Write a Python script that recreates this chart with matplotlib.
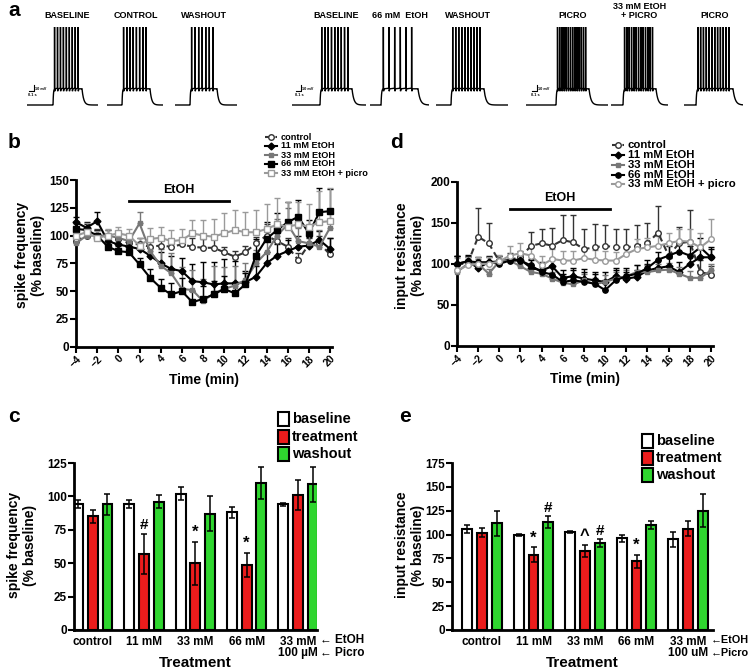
import numpy as np
import matplotlib
matplotlib.use('Agg')
import matplotlib.pyplot as plt
from matplotlib.lines import Line2D
from matplotlib.patches import Rectangle

plt.rcParams['font.family'] = ['Liberation Sans', 'DejaVu Sans']
plt.rcParams['font.weight'] = 'bold'
plt.rcParams['axes.labelweight'] = 'bold'

W, H = 752, 672

# ---------------- data ----------------
trace_titles = ['BASELINE', 'CONTROL', 'WASHOUT',
                'BASELINE', '66 mM  EtOH', 'WASHOUT',
                'PICRO', '33 mM EtOH\n+ PICRO', 'PICRO']
spike_counts = [9, 8, 7, 9, 6, 10, 14, 13, 12]

time_min = list(range(-4, 21))
series_names = ['control', '11 mM EtOH', '33 mM EtOH', '66 mM EtOH', '33 mM EtOH + picro']

b_control = [95, 100, 100, 100, 97, 93, 92, 90, 91, 90, 92, 90, 89, 89, 85, 81, 85, 93, 100, 95, 90, 78, 92, 93, 83]
b_control_err = [8, 6, 6, 5, 5, 5, 6, 7, 6, 7, 6, 8, 8, 8, 5, 5, 6, 6, 10, 10, 8, 6, 6, 7, 15]
b_11 = [112, 107, 113, 95, 92, 90, 88, 82, 75, 70, 68, 59, 58, 56, 57, 57, 58, 63, 75, 82, 86, 90, 91, 96, 88]
b_11_err = [5, 5, 8, 5, 5, 5, 6, 8, 10, 12, 12, 15, 18, 20, 22, 20, 10, 10, 10, 10, 10, 10, 8, 8, 10]
b_33 = [93, 100, 100, 100, 98, 95, 111, 86, 73, 66, 52, 51, 41, 48, 52, 55, 60, 75, 85, 100, 110, 95, 93, 90, 107]
b_33_err = [8, 5, 5, 5, 5, 6, 10, 12, 15, 18, 20, 18, 20, 25, 20, 18, 15, 12, 15, 15, 15, 12, 12, 15, 15]
b_66 = [106, 105, 100, 90, 86, 85, 74, 62, 53, 47, 50, 40, 43, 47, 52, 48, 56, 82, 97, 105, 112, 117, 102, 121, 122]
b_66_err = [6, 5, 5, 5, 5, 5, 6, 8, 8, 10, 12, 10, 12, 12, 12, 10, 10, 15, 15, 15, 18, 15, 12, 22, 20]
b_picro = [100, 103, 98, 100, 102, 100, 91, 97, 98, 95, 96, 102, 100, 99, 102, 105, 103, 103, 106, 110, 108, 110, 108, 112, 113]
b_picro_err = [10, 8, 6, 6, 6, 6, 7, 10, 10, 10, 10, 12, 14, 16, 18, 18, 18, 20, 22, 24, 22, 20, 20, 28, 30]

d_control = [100, 100, 133, 125, 103, 105, 108, 122, 125, 122, 129, 126, 118, 120, 122, 120, 120, 122, 125, 138, 110, 125, 127, 90, 87]
d_control_err = [10, 8, 35, 25, 6, 8, 8, 17, 18, 22, 30, 33, 25, 28, 25, 22, 23, 25, 25, 33, 15, 20, 38, 15, 10]
d_11 = [100, 103, 95, 102, 103, 105, 105, 95, 92, 97, 83, 85, 82, 80, 78, 85, 82, 84, 92, 95, 97, 90, 100, 108, 108]
d_11_err = [10, 8, 6, 8, 6, 6, 8, 10, 10, 10, 10, 10, 12, 10, 12, 10, 8, 8, 8, 10, 10, 12, 12, 12, 10]
d_33 = [90, 100, 100, 88, 103, 104, 97, 90, 88, 82, 77, 75, 80, 75, 78, 82, 85, 90, 90, 92, 93, 88, 83, 83, 92]
d_33_err = [8, 6, 6, 6, 6, 6, 8, 8, 8, 8, 8, 8, 8, 8, 8, 8, 8, 8, 8, 8, 8, 8, 8, 8, 8]
d_66 = [100, 103, 102, 102, 100, 104, 104, 98, 90, 87, 78, 80, 78, 76, 68, 80, 85, 88, 95, 105, 110, 115, 110, 120, 108]
d_66_err = [10, 6, 6, 6, 6, 6, 8, 8, 10, 10, 10, 12, 12, 12, 12, 12, 10, 10, 10, 10, 12, 12, 12, 12, 12]
d_picro = [92, 98, 100, 100, 103, 110, 113, 110, 98, 106, 104, 104, 107, 105, 104, 104, 112, 118, 120, 122, 125, 128, 127, 120, 130]
d_picro_err = [15, 10, 8, 8, 8, 12, 12, 12, 12, 12, 12, 12, 12, 12, 12, 10, 10, 12, 12, 12, 12, 15, 15, 18, 25]

bar_groups = ['control', '11 mM', '33 mM', '66 mM', '33 mM']
bar_conditions = ['baseline', 'treatment', 'washout']

c_baseline = [94, 94, 102, 88, 94]
c_baseline_err = [3, 3, 5, 4, 1]
c_treatment = [85, 57, 50, 49, 101]
c_treatment_err = [5, 15, 16, 9, 11]
c_washout = [94, 96, 87, 110, 109]
c_washout_err = [8, 5, 13, 12, 13]
c_marks = [(1, 1, '#'), (2, 1, '*'), (3, 1, '*')]

e_baseline = [106, 100, 103, 96, 95]
e_baseline_err = [4, 1, 1, 4, 8]
e_treatment = [102, 79, 83, 72, 106]
e_treatment_err = [5, 8, 6, 7, 8]
e_washout = [112, 113, 91, 110, 125]
e_washout_err = [13, 6, 4, 4, 17]
e_marks = [(1, 1, '*'), (1, 2, '#'), (2, 1, '^'), (2, 2, '#'), (3, 1, '*')]

# ---------------- helpers ----------------
fig = plt.figure(figsize=(W / 100, H / 100), dpi=100)


def ax_px(left, top, right, bottom):
    return fig.add_axes([left / W, 1 - bottom / H, (right - left) / W, (bottom - top) / H])


def ftext(x, y, s, **kw):
    return fig.text(x / W, 1 - y / H, s, **kw)


def fline(xs, ys, **kw):
    fig.add_artist(Line2D([x / W for x in xs], [1 - y / H for y in ys],
                          transform=fig.transFigure, **kw))


# ---------------- panel a: traces ----------------
# layout: left, step-on, step-off, right (pixels)
trace_layout = [(27, 53, 82, 98), (107, 122, 150, 163), (175, 190, 217, 237),
                (292, 320, 352, 366), (370, 381, 418, 429), (436, 451, 484, 508),
                (526, 556, 589, 608), (611, 623, 656, 668), (684, 696, 733, 743)]
STEP = 0.6
REST, PLAT, PEAK = -70.0, -43.0, 60.0
for i, (l, on, off, r) in enumerate(trace_layout):
    ax = ax_px(l, 22, r, 110)
    s = STEP / (off - on)
    t0, t1 = (l - on) * s, (r - on) * s
    ax.set_xlim(t0, t1)
    ax.set_ylim(REST - 5 / 0.6, REST + 83 / 0.6)
    ax.axis('off')
    ts = [t0, 0.0]
    vs = [REST, REST]
    rise = np.linspace(0, 0.03, 8)
    ts += list(rise + 0.0005)
    vs += list(REST + (PLAT - REST) * (1 - np.exp(-rise / 0.008)))
    n = spike_counts[i]
    sp = 0.02 + (np.arange(n) + 0.2) * (STEP - 0.05) / n
    for st in sp:
        ts += [st - 0.002, st, st + 0.003, st + 0.012]
        vs += [PLAT + 1, PEAK, PLAT - 4, PLAT]
    ts += [STEP - 0.001]
    vs += [PLAT]
    dec = np.linspace(0, t1 - STEP, 25)
    ts += list(STEP + dec)
    vs += list(REST + (PLAT - REST) * np.exp(-dec / 0.035))
    ax.plot(ts, vs, color='black', lw=1.0, solid_joinstyle='miter')
    if i in (0, 3, 6):
        xb = -19 * s
        ax.plot([xb - 5 * s, xb, xb], [-47, -47, -37], color='black', lw=0.8)
        ax.text(xb + 1 * s, -43, '10 mV', fontsize=2.8, va='center', ha='left')
        ax.text(xb - 6 * s, -53, '0.1 s', fontsize=2.8, va='center', ha='left')
    cx = (on + off) / 2
    if '\n' in trace_titles[i]:
        ftext(cx, 11, trace_titles[i], ha='center', va='center', fontsize=6.5,
              fontweight='bold', linespacing=1.1)
    else:
        ftext(cx, 15, trace_titles[i], ha='center', va='center', fontsize=6.5, fontweight='bold')

# ---------------- panels b and d ----------------
styles_b = [dict(color='#333333', ls=(0, (3, 2)), marker='o', mfc='white', mec='#333333', ms=4),
            dict(color='black', ls='-', marker='D', mfc='black', mec='black', ms=3.5),
            dict(color='#777777', ls='-', marker='s', mfc='#777777', mec='#777777', ms=3.5),
            dict(color='black', ls='-', marker='s', mfc='black', mec='black', ms=3.8),
            dict(color='#9a9a9a', ls='-', marker='s', mfc='white', mec='#9a9a9a', ms=4)]
styles_d = [dict(st) for st in styles_b]
styles_d[3]['marker'] = 'o'
styles_d[4]['marker'] = 'o'


def line_panel(ax, data, styles, ymax, ystep, ylabel, etoh_y, leg_x, leg_rows, leg_fs, ylab_x):
    t = np.array(time_min)
    order = [4, 2, 0, 1, 3]
    for k in order:
        vals, errs = data[k]
        st = styles[k]
        ax.errorbar(t, vals, yerr=[np.zeros(len(errs)), errs], fmt='none', ecolor=st['color'],
                    elinewidth=1.0, capsize=2.2, capthick=1.0, clip_on=False, zorder=2 + k * 0.1)
        ax.plot(t, vals, color=st['color'], ls=st['ls'], lw=1.5, marker=st['marker'],
                mfc=st['mfc'], mec=st['mec'], ms=st['ms'], mew=1.0, clip_on=False, zorder=3 + k * 0.1)
    ax.set_xlim(-4, 20.15)
    ax.set_ylim(0, ymax)
    ax.set_yticks(np.arange(0, ymax + 1, ystep))
    ax.set_xticks(np.arange(-4, 21, 2))
    for sp in ['top', 'right']:
        ax.spines[sp].set_visible(False)
    for sp in ['left', 'bottom']:
        ax.spines[sp].set_linewidth(2)
    ax.tick_params(axis='both', width=1.5, length=4, direction='out')
    ax.tick_params(axis='y', labelsize=8.5, pad=1)
    ax.tick_params(axis='x', labelsize=7.5, pad=1)
    for lab in ax.get_yticklabels():
        lab.set_fontweight('bold')
    for lab in ax.get_xticklabels():
        lab.set_fontweight('bold')
        lab.set_rotation(45)
        lab.set_ha('right')
        lab.set_rotation_mode('anchor')
    ax.plot([1, 10.5], [etoh_y, etoh_y], color='black', lw=2, clip_on=False)
    ax.text(5.75, etoh_y + ymax * 0.03, 'EtOH', ha='center', va='bottom', fontsize=9, fontweight='bold')
    ax.set_xlabel('Time (min)', fontsize=10, fontweight='bold', labelpad=3)
    pos = ax.get_position()
    ftext(ylab_x, (1 - (pos.y0 + pos.height / 2)) * H - 8, ylabel, rotation=90, ha='center',
          va='center', fontsize=10, fontweight='bold', multialignment='center', linespacing=1.1)
    # legend
    for k in range(5):
        st = styles[k]
        y = leg_rows[k]
        fline([leg_x - 6, leg_x + 6], [y, y], color=st['color'], ls=st['ls'], lw=1.5)
        fline([leg_x], [y], marker=st['marker'], mfc=st['mfc'], mec=st['mec'], ms=st['ms'],
              mew=1.0, ls='none')
        ftext(leg_x + 10, y, series_names[k], ha='left', va='center', fontsize=leg_fs, fontweight='bold')


ax_b = ax_px(76, 180, 331.6, 346.7)
line_panel(ax_b, [(b_control, b_control_err), (b_11, b_11_err), (b_33, b_33_err),
                  (b_66, b_66_err), (b_picro, b_picro_err)],
           styles_b, 150, 25, 'spike frequency\n(% baseline)', 131, 271,
           [137, 146, 155, 164, 173], 6.6, 30)

ax_d = ax_px(457, 181.7, 712.5, 346)
line_panel(ax_d, [(d_control, d_control_err), (d_11, d_11_err), (d_33, d_33_err),
                  (d_66, d_66_err), (d_picro, d_picro_err)],
           styles_d, 200, 50, 'input resistance\n(% baseline)', 167, 618,
           [145, 155, 165, 174.5, 184], 8.2, 410)

# ---------------- panels c and e ----------------
bar_colors = ['white', '#ec1c1c', '#2fd62f']


def bar_panel(ax, data, marks, ymax, ylabel, group_px, spacing_px, left_px, right_px,
              leg_x, leg_y, leg_fs, ylab_x, picro_unit, arrow_gap, arrow_x, arrow_fs):
    x = np.arange(len(bar_groups))
    off = 14.7 / spacing_px
    bw = 9.8 / spacing_px
    tops = {}
    for k, (vals, errs) in enumerate(data):
        xs = x + (k - 1) * off
        ax.bar(xs, vals, width=bw, color=bar_colors[k], edgecolor='black', linewidth=1.5, zorder=2)
        ax.errorbar(xs, vals, yerr=errs, fmt='none', ecolor='black', elinewidth=1.1,
                    capsize=2.5, capthick=1.1, zorder=3)
        for g in range(len(x)):
            tops[(g, k)] = (xs[g], vals[g] + errs[g])
    for g, k, s in marks:
        xx, yy = tops[(g, k)]
        ax.text(xx, yy + ymax * 0.01, s, ha='center', va='bottom', fontsize=12 if s != '#' else 11,
                fontweight='bold')
    ax.set_xlim((left_px - group_px) / spacing_px, (right_px - group_px) / spacing_px)
    ax.set_ylim(0, ymax)
    ax.set_yticks(np.arange(0, ymax + 1, 25))
    ax.set_xticks(x)
    ax.set_xticklabels(bar_groups)
    for sp in ['top', 'right']:
        ax.spines[sp].set_visible(False)
    for sp in ['left', 'bottom']:
        ax.spines[sp].set_linewidth(2)
    ax.tick_params(axis='y', width=1.5, length=4, labelsize=8.5, pad=1)
    ax.tick_params(axis='x', length=0, labelsize=8.5, pad=4)
    for lab in ax.get_yticklabels() + ax.get_xticklabels():
        lab.set_fontweight('bold')
    # EtOH / Picro annotations
    ftext(arrow_x, 640, '\u2190' + arrow_gap + 'EtOH', ha='left', va='center',
          fontsize=arrow_fs, fontweight='bold')
    ftext(group_px + 4 * spacing_px, 653, picro_unit, ha='center', va='center',
          fontsize=8.5, fontweight='bold')
    ftext(arrow_x, 653, '\u2190' + arrow_gap + 'Picro', ha='left', va='center',
          fontsize=arrow_fs, fontweight='bold')
    ftext((left_px + right_px) / 2, 663, 'Treatment', ha='center', va='center',
          fontsize=11, fontweight='bold')
    ftext(ylab_x, 545, ylabel, rotation=90, ha='center', va='center', fontsize=10,
          fontweight='bold', multialignment='center', linespacing=1.1)
    # legend
    for k, name in enumerate(bar_conditions):
        y = leg_y[k]
        rect = Rectangle(((leg_x - 5.5) / W, 1 - (y + 7) / H), 11 / W, 14 / H,
                         transform=fig.transFigure, facecolor=bar_colors[k],
                         edgecolor='black', linewidth=1.5)
        fig.add_artist(rect)
        ftext(leg_x + 9, y, name, ha='left', va='center', fontsize=leg_fs, fontweight='bold')


ax_c = ax_px(74, 463, 317, 630)
bar_panel(ax_c, [(c_baseline, c_baseline_err), (c_treatment, c_treatment_err),
                 (c_washout, c_washout_err)], c_marks, 125, 'spike frequency\n(% baseline)',
          92.7, 51.3, 74, 317, 283, [419, 437, 454], 10.5, 22, '100 \u00b5M', ' ', 320, 8.5)

ax_e = ax_px(452, 463, 713, 630)
bar_panel(ax_e, [(e_baseline, e_baseline_err), (e_treatment, e_treatment_err),
                 (e_washout, e_washout_err)], e_marks, 175, 'input resistance\n(% baseline)',
          482, 51.5, 452, 713, 647, [441, 458, 475], 10.5, 410, '100 uM', '', 711, 7.8)

# panel letters
for letter, (x, y) in zip('abcde', [(8, 10), (8, 143), (8, 417), (390, 143), (399, 417)]):
    ftext(x, y, letter, ha='left', va='center', fontsize=15, fontweight='bold')

fig.savefig('out.png', dpi=100)
